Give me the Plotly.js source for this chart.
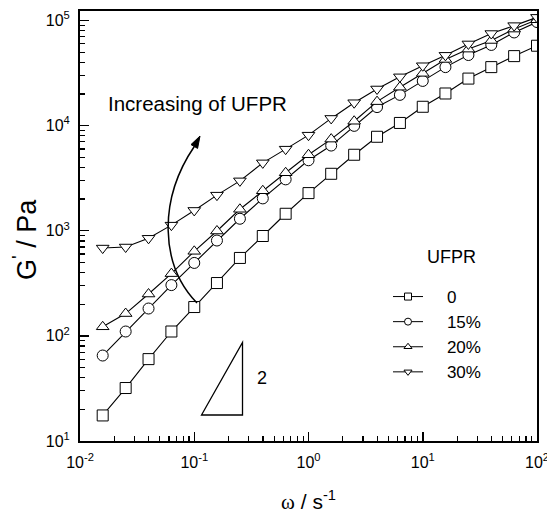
<!DOCTYPE html>
<html>
<head>
<meta charset="utf-8">
<script src="https://cdn.plot.ly/plotly-3.0.1.min.js"></script>
<style>html,body{margin:0;padding:0;background:#fff;}#chart{width:547px;height:515px;}</style>
</head>
<body>
<div id="chart"></div>
<script>
// ---- data ----
const omega = [0.0158, 0.0251, 0.0398, 0.0631, 0.1, 0.158, 0.251, 0.398, 0.631, 1, 1.58, 2.51, 3.98, 6.31, 10, 15.8, 25.1, 39.8, 63.1, 100];
const g0  = [17.5, 31.9, 60.1, 110, 188, 318, 551, 891, 1450, 2280, 3480, 5280, 7830, 10600, 15100, 20200, 28000, 36000, 45800, 57500];
const g15 = [65, 110, 182, 304, 494, 807, 1300, 2030, 3080, 4680, 6460, 9940, 15000, 19600, 26600, 36000, 46900, 58500, 76900, 96600];
const g20 = [122, 163, 250, 391, 637, 994, 1600, 2400, 3560, 5280, 7440, 11000, 16900, 23200, 31400, 42600, 53400, 64500, 82800, 101600];
const g30 = [684, 700, 847, 1130, 1560, 2180, 2980, 4420, 5970, 8110, 11700, 16500, 22300, 29100, 37100, 46600, 59800, 75100, 89300, 107000];
const seriesNames = ['0', '15%', '20%', '30%'];
const seriesSymbols = ['square', 'circle', 'triangle-up', 'triangle-down'];
const xTickVals = [0.01, 0.1, 1, 10, 100];
const xTickText = ['10<sup>-2</sup>', '10<sup>-1</sup>', '10<sup>0</sup>', '10<sup>1</sup>', '10<sup>2</sup>'];
const yTickVals = [10, 100, 1000, 10000, 100000];
const yTickText = ['10<sup>1</sup>', '10<sup>2</sup>', '10<sup>3</sup>', '10<sup>4</sup>', '10<sup>5</sup>'];

const seriesY = [g0, g15, g20, g30];

function minorVals(lo, hi) {
  const out = [];
  for (let e = lo; e < hi; e++) for (let d = 2; d <= 9; d++) out.push(d * Math.pow(10, e));
  return out;
}

const FONT = 'Liberation Sans, Arial, sans-serif';
const SERIF = 'Liberation Serif, Times New Roman, serif';
const PAD = '\u00a0\u00a0\u00a0\u00a0';
const traces = [];
seriesY.forEach((ys, i) => {
  traces.push({
    x: omega, y: ys, type: 'scatter', mode: 'lines+markers', showlegend: false,
    line: {color: '#000', width: 1.1},
    marker: {symbol: seriesSymbols[i], size: 11, color: '#fff', line: {color: '#000', width: 1}},
    hoverinfo: 'skip'
  });
});
seriesY.forEach((ys, i) => {
  traces.push({
    x: [null], y: [null], type: 'scatter', mode: 'lines+markers', name: PAD + seriesNames[i],
    line: {color: '#000', width: 1},
    marker: {symbol: seriesSymbols[i], size: 7, color: '#fff', line: {color: '#000', width: 1}}
  });
});

// plot-area pixel helpers (for decorations only)
const L = 80, R = 10, T = 11, B = 74, W = 547, H = 515;
const pw = W - L - R, ph = H - T - B;
function P(px, py) { return ((px - L) / pw).toFixed(4) + ',' + ((H - B - py) / ph).toFixed(4); }

const shapes = [
  // slope triangle
  {type: 'path', xref: 'paper', yref: 'paper',
   path: 'M' + P(201.5, 415) + ' L' + P(242.5, 415) + ' L' + P(242.5, 342.5) + ' Z',
   line: {color: '#000', width: 1.3}},
  // curved arrow
  {type: 'path', xref: 'paper', yref: 'paper',
   path: 'M' + P(197, 303) + ' C' + P(160, 265) + ' ' + P(158, 200) + ' ' + P(194.3, 146.5),
   line: {color: '#000', width: 1.5}},
  {type: 'path', xref: 'paper', yref: 'paper',
   path: 'M' + P(200, 136) + ' L' + P(197.6, 148.4) + ' L' + P(191.0, 144.6) + ' Z',
   fillcolor: '#000', line: {color: '#000', width: 1}}
];

const annotations = [
  {xref: 'paper', yref: 'paper', x: (197 - L) / pw, y: (H - B - 103) / ph, text: 'Increasing of UFPR',
   showarrow: false, font: {family: FONT, size: 20.5, color: '#000'}, xanchor: 'center', yanchor: 'middle'},
  {xref: 'paper', yref: 'paper', x: (451 - L) / pw, y: (H - B - 257) / ph, text: 'UFPR',
   showarrow: false, font: {family: FONT, size: 18, color: '#000'}, xanchor: 'center', yanchor: 'middle'},
  {xref: 'paper', yref: 'paper', x: (262 - L) / pw, y: (H - B - 378) / ph, text: '2',
   showarrow: false, font: {family: FONT, size: 18, color: '#000'}, xanchor: 'center', yanchor: 'middle'},
  // y-axis title, placed where the reference puts it
  {xref: 'paper', yref: 'paper', x: (25 - L) / pw, y: (H - B - 240) / ph, text: 'G<sup>\'</sup> / Pa',
   textangle: -90, showarrow: false, font: {family: FONT, size: 27, color: '#000'}, xanchor: 'center', yanchor: 'middle'}
];

const axisCommon = {
  type: 'log', showgrid: false, zeroline: false, showline: true, mirror: true,
  linecolor: '#000', linewidth: 2, ticks: 'inside', ticklen: 9, tickwidth: 1.5, tickcolor: '#000',
  tickmode: 'array', tickfont: {family: FONT, size: 16, color: '#000'}, ticklabeloverflow: 'allow'
};

const layout = {
  width: W, height: H,
  margin: {l: L, r: R, t: T, b: B},
  paper_bgcolor: '#fff', plot_bgcolor: '#fff',
  font: {family: FONT, color: '#000'},
  xaxis: Object.assign({}, axisCommon, {
    range: [-2, 2], tickvals: xTickVals, ticktext: xTickText, ticklabelstandoff: 6,
    minor: {tickmode: 'array', tickvals: minorVals(-2, 2), ticks: 'inside', ticklen: 5, tickwidth: 1.2, tickcolor: '#000', showgrid: false},
    title: {text: '<span style="font-family:' + SERIF + '">ω</span> / s<sup>-1</sup>',
            font: {family: FONT, size: 21, color: '#000'}, standoff: 24}
  }),
  yaxis: Object.assign({}, axisCommon, {
    range: [1, 5.09], tickvals: yTickVals, ticktext: yTickText, ticklabelstandoff: 5,
    minor: {tickmode: 'array', tickvals: minorVals(1, 5), ticks: 'inside', ticklen: 5, tickwidth: 1.2, tickcolor: '#000', showgrid: false}
  }),
  showlegend: true,
  legend: {x: (388 - L) / pw, y: (H - B - 279) / ph, xanchor: 'left', yanchor: 'top',
           bgcolor: 'rgba(0,0,0,0)', borderwidth: 0, font: {family: FONT, size: 17, color: '#000'},
           tracegroupgap: 0},
  shapes: shapes,
  annotations: annotations
};

Plotly.newPlot('chart', traces, layout, {displayModeBar: false, staticPlot: true});
</script>
</body>
</html>
